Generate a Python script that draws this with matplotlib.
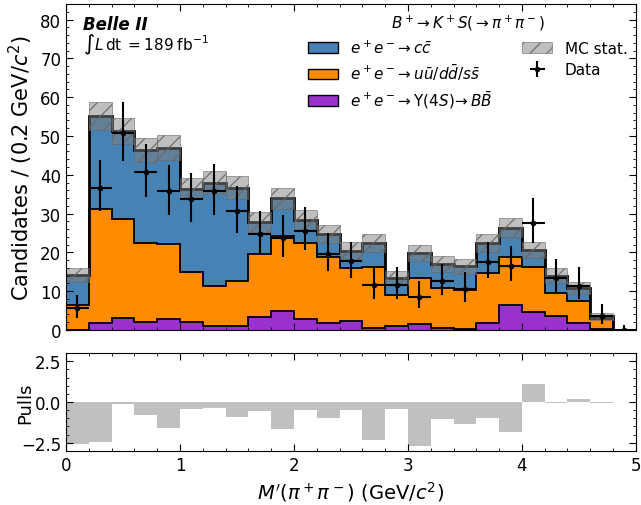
import matplotlib
matplotlib.use("Agg")
import matplotlib.pyplot as plt
import numpy as np
from matplotlib.patches import Patch
from matplotlib.ticker import MultipleLocator

# bin edges of M'(pi+pi-) in GeV/c^2
edges = np.linspace(0.0, 5.0, 26)
centers = 0.5 * (edges[:-1] + edges[1:])

# cumulative stack tops
bb_top = [0.0, 1.7, 3.0, 2.0, 2.7, 2.1, 0.9, 0.9, 3.4, 5.0, 2.8, 1.8, 2.2,
          0.4, 0.9, 1.4, 0.5, 0.26, 1.8, 6.4, 4.5, 3.5, 1.9, 0.3, 0.0]
uds_top = [6.3, 31.3, 28.7, 22.4, 22.2, 15.0, 11.4, 12.7, 19.6, 24.2, 22.3,
           18.9, 15.9, 16.1, 9.0, 13.5, 10.7, 10.4, 14.7, 18.9, 16.2, 9.5,
           7.5, 2.8, 0.0]
total = [14.2, 55.1, 51.2, 46.5, 47.0, 36.4, 38.0, 36.7, 27.9, 33.9, 28.4,
         24.8, 20.4, 22.4, 13.4, 19.8, 17.0, 16.4, 22.4, 26.4, 20.6, 14.0,
         10.8, 3.5, 0.0]
mc_stat = [1.85, 3.6, 3.35, 3.1, 3.2, 2.75, 3.05, 2.9, 2.6, 2.7, 2.45, 2.35,
           2.2, 2.35, 1.8, 2.05, 2.05, 2.0, 2.3, 2.35, 2.1, 1.9, 1.55, 0.95,
           0.0]

data = [5.7, 36.6, 50.8, 40.7, 35.7, 33.7, 35.7, 30.7, 24.6, 23.7, 25.6,
        19.6, 17.7, 11.6, 11.7, 8.6, 12.5, 10.5, 17.6, 16.6, 27.6, 13.5,
        11.4, 3.5, 0.0]
data_err_lo = [2.5, 6.0, 7.3, 6.4, 6.1, 5.9, 6.1, 5.6, 4.9, 4.9, 5.1, 4.4,
               4.2, 3.5, 3.6, 3.0, 3.5, 3.2, 4.2, 4.1, 5.2, 3.6, 3.3, 2.0,
               0.0]
data_err_hi = [3.4, 7.1, 7.9, 7.3, 6.9, 6.7, 7.0, 6.4, 6.0, 5.8, 6.0, 5.5,
               5.0, 4.4, 4.4, 3.9, 4.5, 4.5, 5.1, 5.1, 6.3, 4.8, 4.7, 3.2,
               1.3]

pulls = [-2.55, -2.46, -0.1, -0.77, -1.57, -0.41, -0.35, -0.9, -0.57, -1.67,
         -0.47, -0.96, -0.51, -2.34, -0.41, -2.7, -1.02, -1.36, -0.96, -1.87,
         1.12, -0.08, 0.2, -0.03, 0.0]

labels = [r"$e^+e^-\!\to c\bar{c}$",
          r"$e^+e^-\!\to u\bar{u}/d\bar{d}/s\bar{s}$",
          r"$e^+e^-\!\to \Upsilon(4S)\!\to B\bar{B}$"]
colors = ["steelblue", "darkorange", "darkorchid"]

plt.rcParams["font.size"] = 12

fig = plt.figure(figsize=(6.41, 5.06), dpi=100)
ax = fig.add_axes([0.103, 0.346, 0.889, 0.644])
ax2 = fig.add_axes([0.103, 0.107, 0.889, 0.193], sharex=ax)

bb = np.array(bb_top)
uds = np.array(uds_top)
tot = np.array(total)
err = np.array(mc_stat)

# stacked components
ax.stairs(bb, edges, baseline=0, fill=True, color=colors[2], lw=0)
ax.stairs(uds, edges, baseline=bb, fill=True, color=colors[1], lw=0)
ax.stairs(tot, edges, baseline=uds, fill=True, color=colors[0], lw=0)
ax.stairs(bb, edges, baseline=None, color="black", lw=1.3)
ax.stairs(uds, edges, baseline=None, color="black", lw=1.3)
ax.stairs(tot, edges, baseline=None, color="black", lw=2.0)

# MC statistical band
ax.bar(centers, 2 * err, width=0.2, bottom=tot - err,
       color=(0.5, 0.5, 0.5, 0.5), edgecolor=(0.4, 0.4, 0.4, 0.8),
       hatch="//", linewidth=0.5)

# data
ax.errorbar(centers, data, yerr=[data_err_lo, data_err_hi], xerr=0.1,
            fmt="o", color="black", ms=3, lw=1.5, capsize=0)

ax.set_xlim(0, 5)
ax.set_ylim(0, 84)
ax.set_ylabel(r"Candidates / (0.2 GeV/$c^2$)", fontsize=15)
ax.yaxis.set_major_locator(MultipleLocator(10))
ax.yaxis.set_minor_locator(MultipleLocator(2))
ax.xaxis.set_major_locator(MultipleLocator(1))
ax.xaxis.set_minor_locator(MultipleLocator(0.2))
ax.tick_params(labelbottom=False)

ax.text(0.03, 0.939, "Belle II", transform=ax.transAxes, fontsize=12,
        fontweight="bold", fontstyle="italic", va="center")
ax.text(0.03, 0.877, r"$\int L\,\mathrm{dt}\;=189\;\mathrm{fb}^{-1}$",
        transform=ax.transAxes, fontsize=11, va="center")

handles = [Patch(facecolor=c, edgecolor="black", label=l)
           for c, l in zip(colors, labels)]
band_handle = Patch(facecolor=(0.5, 0.5, 0.5, 0.5),
                    edgecolor=(0.4, 0.4, 0.4, 0.8), hatch="//", lw=0.5,
                    label="MC stat.")
data_handle = ax.errorbar([], [], yerr=[], xerr=[], fmt="o", color="black",
                          ms=3, lw=1.5, label="Data")
leg = ax.legend(handles + [band_handle, data_handle],
                labels + ["MC stat.", "Data"], ncol=2, frameon=False,
                loc="upper left", bbox_to_anchor=(0.40, 1.015),
                title=r"$B^+\!\to K^+S(\to\pi^+\pi^-)$", fontsize=11,
                title_fontsize=11, columnspacing=1.9, labelspacing=0.42)

# pulls
ax2.bar(centers, pulls, width=0.2, color="silver")
ax2.set_ylim(-3, 3)
ax2.set_ylabel("Pulls", fontsize=13)
ax2.set_xlabel(r"$M'(\pi^+\pi^-)$ (GeV/$c^2$)", fontsize=14)
ax2.yaxis.set_major_locator(MultipleLocator(2.5))
ax2.yaxis.set_minor_locator(MultipleLocator(0.5))

ax.yaxis.set_label_coords(-0.054, 0.5)
ax2.yaxis.set_label_coords(-0.055, 0.5)

for a in (ax, ax2):
    a.tick_params(which="both", direction="in", top=True, right=True)
    a.tick_params(which="major", length=5)
    a.tick_params(which="minor", length=2.5)

fig.savefig("out.png", dpi=100)
